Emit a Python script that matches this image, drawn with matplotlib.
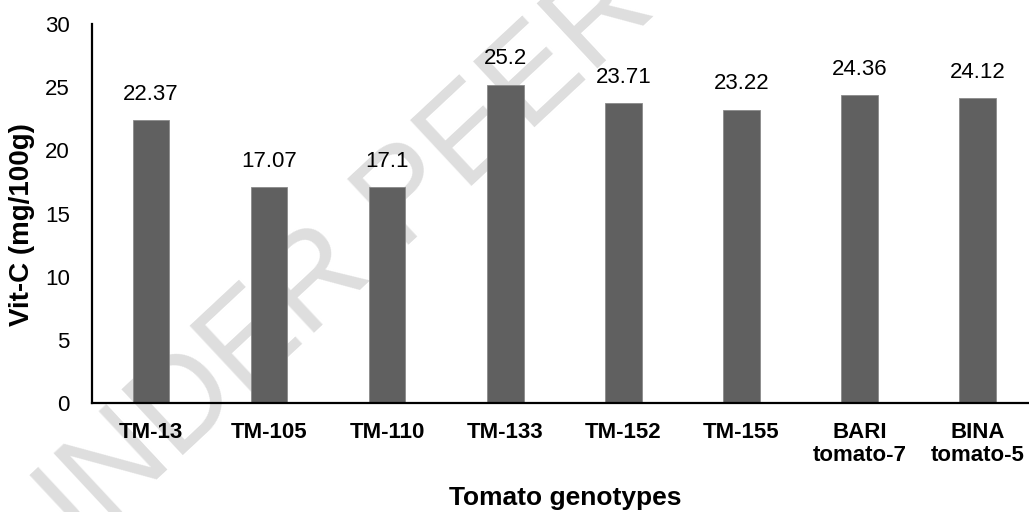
import matplotlib
matplotlib.use("Agg")
import matplotlib.pyplot as plt

genotypes = ["TM-13", "TM-105", "TM-110", "TM-133", "TM-152", "TM-155",
             "BARI\ntomato-7", "BINA\ntomato-5"]
vitc = [22.37, 17.07, 17.1, 25.2, 23.71, 23.22, 24.36, 24.12]
value_labels = ["22.37", "17.07", "17.1", "25.2", "23.71", "23.22", "24.36", "24.12"]
yticks = [0, 5, 10, 15, 20, 25, 30]

W, H = 1029, 512
plt.rcParams['font.family'] = ['Liberation Sans', 'DejaVu Sans']
fig = plt.figure(figsize=(W / 100, H / 100), dpi=100)

# watermark
fig.text(39 / W, 1 - 589 / H, "UNDER PEER REVIEW", fontsize=93, color="#dedede",
         rotation=43, rotation_mode="anchor", ha="left", va="baseline", zorder=-1)

ax = fig.add_axes([92 / W, 1 - 403 / H, (W - 92) / W, 379 / H])
ax.patch.set_visible(False)
x = list(range(len(genotypes)))
bars = ax.bar(x, vitc, width=0.31, color="#606060", edgecolor="#8a8a8a", linewidth=0.6, zorder=2)
for xi, v, lab in zip(x, vitc, value_labels):
    ax.annotate(lab, (xi, v), xytext=(0, 11), textcoords="offset points",
                ha="center", va="bottom", fontsize=16, color="black")

ax.set_xlim(-0.5, (W - 151.5) / 118)
ax.set_ylim(0, 30)
ax.set_yticks(yticks)
ax.set_xticks(x)
ax.set_xticklabels(genotypes, fontsize=16, fontweight="bold", linespacing=1.1)
ax.tick_params(axis="y", length=0, pad=16, labelsize=16)
ax.tick_params(axis="x", length=0, pad=14)
for s in ["top", "right"]:
    ax.spines[s].set_visible(False)
for s in ["left", "bottom"]:
    ax.spines[s].set_linewidth(1.6)
    ax.spines[s].set_color("black")
    ax.spines[s].set_zorder(3)

ax.set_ylabel("Vit-C (mg/100g)", fontsize=20, fontweight="bold", va="center")
ax.yaxis.set_label_coords((22 - 92) / (W - 92), (403 - 225) / 379)
ax.set_xlabel("Tomato genotypes", fontsize=19, fontweight="bold", va="center")
ax.xaxis.set_label_coords((565 - 92) / (W - 92), -(498 - 403) / 379)

fig.savefig("out.png", dpi=100)
